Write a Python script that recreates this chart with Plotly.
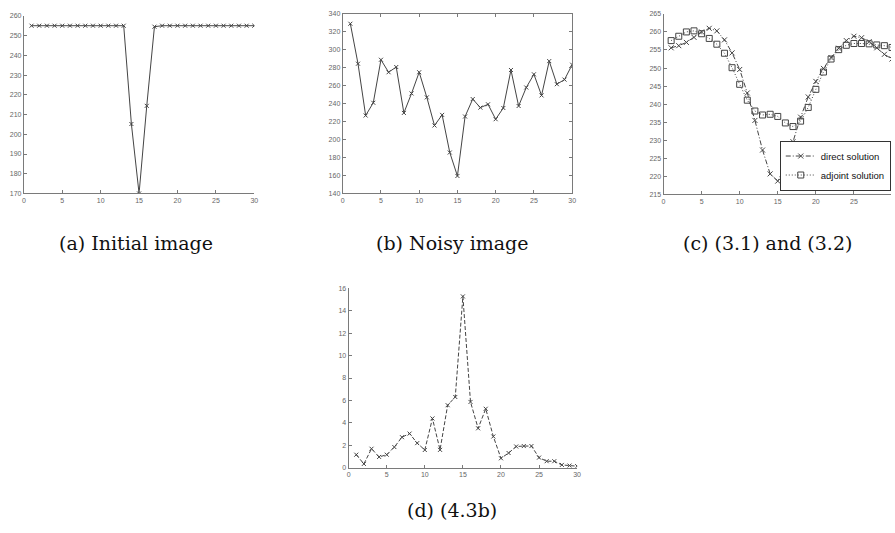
import plotly.graph_objects as go

x = list(range(1, 31))

# (a) Initial image
initial_vals = [255, 255, 255, 255, 255, 255, 255, 255, 255, 255,
                255, 255, 255, 205.2, 170, 214.4, 254.5, 255, 255, 255,
                255, 255, 255, 255, 255, 255, 255, 255, 255, 255]

# (b) Noisy image
noisy_vals = [329, 284.5, 226.8, 241, 288.9, 275, 280.8, 229.7, 251.4, 275,
              247, 215.7, 227.5, 185.6, 159.5, 225.7, 245.1, 235.6, 239.3, 222.7,
              235.2, 277.5, 237.4, 258, 272.7, 249.2, 287.4, 261.7, 266.8, 283.4]

# (c) (3.1) and (3.2)
direct_vals = [255.6, 256.2, 257.1, 258.5, 260, 261, 260.3, 257.8, 254.2, 249.6,
               243.1, 235.5, 227.3, 220.7, 218.7, 222.8, 229.6, 236.4, 242, 246.3,
               249.9, 252.9, 255.5, 257.6, 258.8, 258.4, 257.3, 255.6, 253.8, 252.5]
adjoint_vals = [257.6, 258.8, 260, 260.3, 259.5, 258.2, 256.6, 254.1, 250.1, 245.5,
                241.1, 238.1, 237, 237.2, 236.6, 234.8, 233.8, 235.3, 239.1, 244.1,
                248.9, 252.5, 255.1, 256.3, 256.8, 256.8, 256.7, 256.4, 256.2, 255.7]

# (d) (4.3b)
diff_vals = [1.17, 0.35, 1.7, 0.97, 1.17, 1.85, 2.73, 3.05, 2.2, 1.59,
             4.4, 1.6, 5.58, 6.31, 15.27, 5.87, 3.52, 5.26, 2.79, 0.85,
             1.32, 1.9, 1.94, 1.94, 0.91, 0.59, 0.59, 0.26, 0.2, 0.15]

captions = ["(a) Initial image", "(b) Noisy image", "(c) (3.1) and (3.2)", "(d) (4.3b)"]
legend_names = ["direct solution", "adjoint solution"]

W, H = 895, 533
LINE = "#444444"
AX = "#7a7a7a"

def px_x(v):
    return v / W

def px_y(v):
    return 1 - v / H

fig = go.Figure()

def add_line(xa, ya, yv, dash="solid", symbol="x-thin-open", msize=4, name=None, show=False):
    fig.add_trace(go.Scatter(
        x=x, y=yv, xaxis=xa, yaxis=ya, mode="lines+markers", name=name,
        showlegend=show,
        line=dict(color=LINE, width=1, dash=dash),
        marker=dict(symbol=symbol, size=msize, color=LINE, line=dict(color=LINE, width=1)),
    ))

add_line("x", "y", initial_vals)
add_line("x2", "y2", noisy_vals)
add_line("x3", "y3", direct_vals, dash="5px,2px,1px,2px", msize=5,
         name=legend_names[0], show=True)
add_line("x3", "y3", adjoint_vals, dash="1px,2px", symbol="square-open", msize=6,
         name=legend_names[1], show=True)
add_line("x4", "y4", diff_vals, dash="4px,2px")

tickfont = dict(family="Liberation Sans, Arial, sans-serif", size=7, color="#666666")

def ax_common(**kw):
    d = dict(showgrid=False, zeroline=False, showline=True, linecolor=AX, linewidth=1,
             ticks="inside", ticklen=3, tickcolor=AX, tickfont=tickfont)
    d.update(kw)
    return d

# domains in pixels
dom = {
    1: ((22, 254), (12, 192)),
    2: ((343, 574), (10, 192)),
    3: ((666, 895), (10, 193)),
    4: ((349, 579), (288, 470)),
}
yranges = {1: [170, 260], 2: [140, 340], 3: [215, 265], 4: [0, 16]}
ydticks = {1: 10, 2: 20, 3: 5, 4: 2}
mirror = {1: False, 2: "ticks", 3: False, 4: False}

layout = {}
for i in range(1, 5):
    (x0, x1), (yt, yb) = dom[i]
    sx = "" if i == 1 else str(i)
    xr = [0, 30] if i != 3 else [0, 30 * (895 - 666) / (896 - 666)]
    layout["xaxis" + sx] = ax_common(domain=[px_x(x0), min(1, px_x(x1))], range=xr,
                                     tickmode="linear", tick0=0, dtick=5,
                                     anchor="y" + sx, mirror=mirror[i])
    layout["yaxis" + sx] = ax_common(domain=[px_y(yb), px_y(yt)], range=yranges[i],
                                     tickmode="linear", tick0=0, dtick=ydticks[i],
                                     anchor="x" + sx, mirror=mirror[i])

fig.update_layout(**layout)

cap_font = dict(family="DejaVu Serif, Liberation Serif, serif", size=19, color="#111111")
cap_pos = [(135, 242), (454, 242), (771, 242), (453, 513)]
for txt, (cx, cy) in zip(captions, cap_pos):
    fig.add_annotation(text=txt, x=px_x(cx), y=px_y(cy), xref="paper", yref="paper",
                       showarrow=False, xanchor="center", yanchor="middle", font=cap_font)

fig.update_layout(
    width=W, height=H, margin=dict(l=0, r=0, t=0, b=0),
    paper_bgcolor="white", plot_bgcolor="white",
    legend=dict(x=px_x(783), y=px_y(189), xanchor="left", yanchor="bottom",
                bgcolor="white", bordercolor="#333333", borderwidth=1,
                font=dict(family="Liberation Sans, Arial, sans-serif", size=9.5, color="#111111"),
                itemwidth=30, tracegroupgap=0),
)

fig.write_html("out.html", config={"displayModeBar": False, "staticPlot": True},
               post_script="document.body.style.margin='0';document.body.style.overflow='hidden';")
